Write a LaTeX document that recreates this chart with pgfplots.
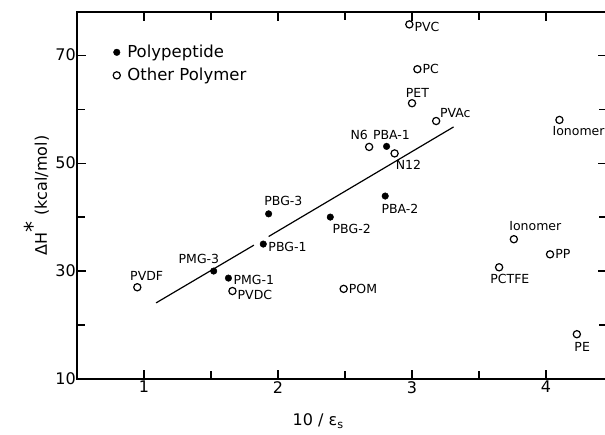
\documentclass[border=0pt]{standalone}
\usepackage{fontspec}
\setmainfont{DejaVu Sans}
\usepackage{pgfplots}
\pgfplotsset{compat=1.18}
\begin{document}
\begin{tikzpicture}[lab/.style={inner sep=1pt, font=\fontsize{12.5}{14}\selectfont}]
\begin{axis}[
  scale only axis, width=530pt, height=367pt,
  xmin=0.5, xmax=4.455, ymin=10, ymax=78,
  xtick={1,2,3,4}, minor xtick={1.5,2.5,3.5},
  ytick={10,30,50,70}, minor ytick={20,40,60},
  major tick length=9pt, minor tick length=8pt,
  tick style={line width=1.2pt, black},
  axis line style={line width=1.3pt},
  tick align=inside,
  /pgf/number format/assume math mode=true,
  ticklabel style={font=\fontsize{16}{18}\selectfont},
  yticklabel style={inner sep=1pt},
  xticklabel style={inner sep=2pt},
  label style={font=\fontsize{16}{18}\selectfont},
  xlabel={10 / ε\textsubscript{s}},
  ylabel={ΔH\textsuperscript{\fontsize{22}{22}\selectfont *} (kcal/mol)},
  xlabel style={at={(ticklabel cs:0.455)}},
  xlabel shift=15pt,
  ylabel shift=2pt,
  clip=false,
  legend style={draw=none, fill=none, at={(rel axis cs:0.066,0.918)}, anchor=north west,
    font=\fontsize{16.5}{18}\selectfont, row sep=5pt, inner sep=1pt},
  legend cell align=left,
]
\addplot[only marks, mark=*, mark size=3.3pt, black] coordinates {
(1.52,30.0) (1.63,28.7) (1.89,35.0) (1.93,40.6) (2.39,40.0) (2.81,53.1) (2.80,43.9)
};
\addlegendentry{\hspace{5pt}Polypeptide}
\addplot[only marks, mark=o, mark size=3.6pt, black, line width=1.2pt] coordinates {
(2.98,75.7) (3.04,67.4) (3.00,61.1) (3.18,57.8) (2.68,53.0) (2.87,51.8)
(4.10,58.0) (3.76,35.9) (4.03,33.1) (3.65,30.7) (2.49,26.7) (4.23,18.3)
(0.95,27.0) (1.66,26.3)
};
\addlegendentry{\hspace{5pt}Other Polymer}
\addplot[black, line width=1.2pt, no marks, forget plot] coordinates {(1.09,24.1) (1.82,34.8)};
\addplot[black, line width=1.2pt, no marks, forget plot] coordinates {(1.93,36.4) (3.31,56.7)};
% labels
\node[lab, anchor=west] at (axis cs:3.01,75.2) {PVC};
\node[lab, anchor=west] at (axis cs:3.07,67.4) {PC};
\node[lab, anchor=south] at (axis cs:3.04,62.0) {PET};
\node[lab, anchor=south west] at (axis cs:3.20,58.2) {PVAc};
\node[lab, anchor=south east] at (axis cs:2.68,54.2) {N6};
\node[lab, anchor=south west] at (axis cs:2.70,54.2) {PBA-1};
\node[lab, anchor=north west] at (axis cs:2.87,50.8) {N12};
\node[lab, anchor=north] at (axis cs:2.91,42.6) {PBA-2};
\node[lab, anchor=south] at (axis cs:2.04,41.8) {PBG-3};
\node[lab, anchor=north] at (axis cs:2.55,38.9) {PBG-2};
\node[lab, anchor=west] at (axis cs:1.92,34.4) {PBG-1};
\node[lab, anchor=south] at (axis cs:1.41,31.2) {PMG-3};
\node[lab, anchor=west] at (axis cs:1.66,28.3) {PMG-1};
\node[lab, anchor=west] at (axis cs:1.69,25.6) {PVDC};
\node[lab, anchor=south] at (axis cs:1.02,28.0) {PVDF};
\node[lab, anchor=west] at (axis cs:2.52,26.6) {POM};
\node[lab, anchor=north] at (axis cs:3.73,29.6) {PCTFE};
\node[lab, anchor=south] at (axis cs:3.92,37.2) {Ionomer};
\node[lab, anchor=west] at (axis cs:4.06,33.1) {PP};
\node[lab, anchor=north] at (axis cs:4.27,17.0) {PE};
\node[lab, anchor=north west] at (axis cs:4.04,57.0) {Ionomer};
\end{axis}
\pgfresetboundingbox
\path ([xshift=-77pt,yshift=-55pt]current axis.south west) rectangle ([xshift=-2pt,yshift=12pt]current axis.north east);
\end{tikzpicture}
\end{document}
